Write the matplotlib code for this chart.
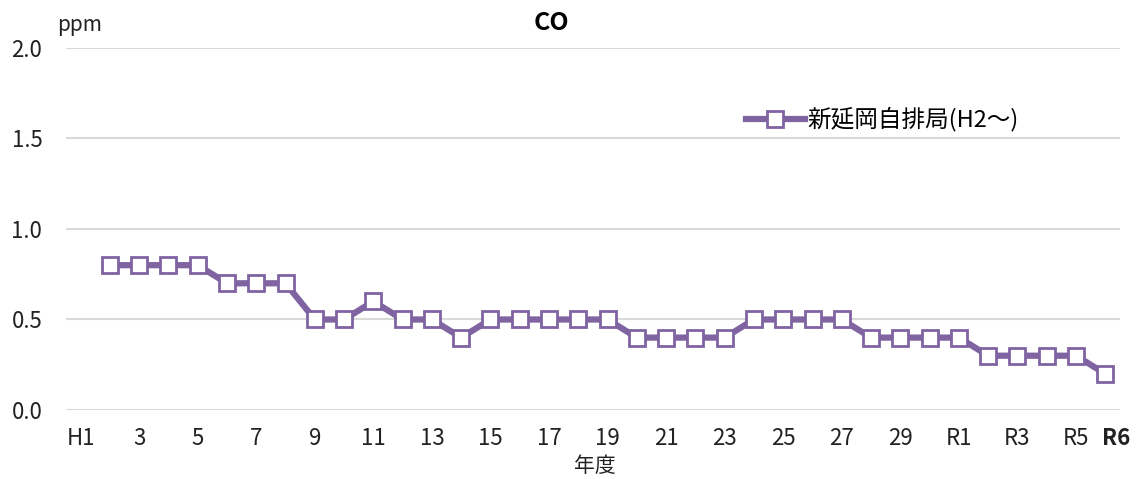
import matplotlib
matplotlib.use("Agg")
import matplotlib.pyplot as plt

plt.rcParams['font.family'] = ['Noto Sans CJK JP', 'DejaVu Sans']

categories = [f"H{i}" for i in range(1, 31)] + [f"R{i}" for i in range(1, 7)]
tick_labels = ["H1"] + ["" if i % 2 == 0 else str(i) for i in range(2, 31)] + ["R1", "", "R3", "", "R5", "R6"]
series_name = "新延岡自排局(H2～)"
values = [None, 0.8, 0.8, 0.8, 0.8, 0.7, 0.7, 0.7, 0.5, 0.5,
          0.6, 0.5, 0.5, 0.4, 0.5, 0.5, 0.5, 0.5, 0.5, 0.4,
          0.4, 0.4, 0.4, 0.5, 0.5, 0.5, 0.5, 0.4, 0.4, 0.4,
          0.4, 0.3, 0.3, 0.3, 0.3, 0.2]

color = "#8064A2"
fig = plt.figure(figsize=(11.37, 4.79), dpi=100)
ax = fig.add_axes([0.058, 0.144, 0.927, 0.756])

xs = [i for i, v in enumerate(values) if v is not None]
ys = [v for v in values if v is not None]
ax.plot(xs, ys, color=color, lw=4.5, marker="s", markersize=12,
        markerfacecolor="white", markeredgecolor=color, markeredgewidth=2,
        label=series_name)

ax.set_xlim(-0.5, len(categories) - 0.5)
ax.set_ylim(0, 2.0)
ax.set_yticks([0, 0.5, 1.0, 1.5, 2.0])
ax.set_yticklabels(["0.0", "0.5", "1.0", "1.5", "2.0"])
ax.set_xticks(range(len(categories)))
last = len(categories) - 1
ax.set_xticklabels(tick_labels[:-1] + [""])
ax.tick_params(axis="both", length=0, labelsize=16, colors="#222222", pad=12)
ax.tick_params(axis="y", pad=17)
ax.grid(axis="y", color="#d9d9d9", lw=1.5)
ax.set_axisbelow(True)
for s in ax.spines.values():
    s.set_visible(False)

# bold, slightly shifted final label
ax.annotate(tick_labels[-1], xy=(last, 0), xycoords=("data", "axes fraction"),
            xytext=(8, -12), textcoords="offset points", ha="center", va="top",
            fontsize=16, fontweight="bold", color="#222222")

fig.text(0.485, 0.953, "CO", fontsize=18, fontweight="bold", ha="center", va="center")
fig.text(0.07, 0.948, "ppm", fontsize=15, ha="center", va="center", color="#222222")
fig.text(0.523, 0.028, "年度", fontsize=15, ha="center", va="center", color="#222222")

leg = ax.legend(loc="upper left", bbox_to_anchor=(0.625, 0.895), frameon=False,
                fontsize=17, handlelength=2.5, handletextpad=0.1)
fig.savefig("out.png", dpi=100, facecolor="white")
